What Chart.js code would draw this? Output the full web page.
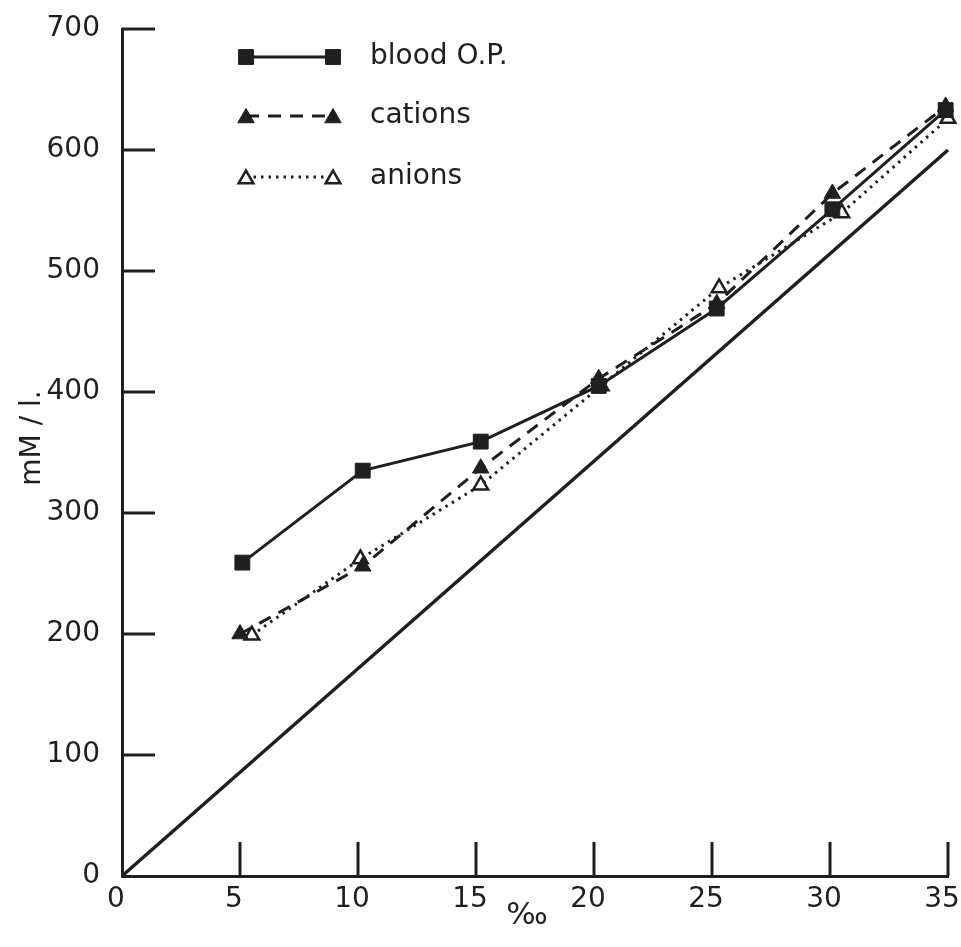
<!DOCTYPE html>
<html>
<head>
<meta charset="utf-8">
<script src="https://cdn.jsdelivr.net/npm/chart.js@4.4.1/dist/chart.umd.min.js"></script>
<style>
  html, body { margin: 0; padding: 0; background: #fff; }
  #wrap { width: 961px; height: 947px; position: relative; }
</style>
</head>
<body>
<div id="wrap"><canvas id="chart" width="961" height="947"></canvas></div>
<script>
// Salinity (‰) at which each series was measured
const bloodSalinity  = [5.1, 10.2, 15.2, 20.2, 25.2, 30.1, 34.9];
const cationSalinity = [5.0, 10.2, 15.2, 20.2, 25.2, 30.1, 34.9];
const anionSalinity  = [5.5, 10.1, 15.2, 20.3, 25.3, 30.5, 35.0];

// Concentrations, mM / l.
const bloodOP = [259, 335, 359, 405, 469, 551, 633];
const cations = [200, 256, 337, 411, 473, 564, 636];
const anions  = [199, 262, 323, 405, 486, 548, 626];

// Iso-osmotic reference line (medium = blood)
const isoSalinity = [0, 35];
const isoValue    = [0, 600];

// Axis ticks
const xTicks = [0, 5, 10, 15, 20, 25, 30, 35];
const yTicks = [0, 100, 200, 300, 400, 500, 600, 700];

const seriesLabels = ['blood O.P.', 'cations', 'anions'];
const xTitle = '‰';
const yTitle = 'mM / l.';

const INK = '#1f1f1f';
const FONT = '"DejaVu Sans", sans-serif';

const pairs = (xs, ys) => xs.map((x, i) => ({ x: x, y: ys[i] }));

// Tick marks pointing into the plot area
const innerTicks = {
  id: 'innerTicks',
  afterDatasetsDraw(chart) {
    const { ctx, chartArea, scales } = chart;
    ctx.save();
    ctx.strokeStyle = INK;
    ctx.lineWidth = 3;
    ctx.lineCap = 'butt';
    scales.y.ticks.forEach(t => {
      if (t.value === 0) return;
      const py = scales.y.getPixelForValue(t.value);
      ctx.beginPath();
      ctx.moveTo(chartArea.left, py);
      ctx.lineTo(chartArea.left + 33, py);
      ctx.stroke();
    });
    scales.x.ticks.forEach(t => {
      if (t.value === 0) return;
      const px = scales.x.getPixelForValue(t.value);
      ctx.beginPath();
      ctx.moveTo(px, chartArea.bottom);
      ctx.lineTo(px, chartArea.bottom - 34);
      ctx.stroke();
    });
    ctx.restore();
  }
};

// Axis titles
const axisTitles = {
  id: 'axisTitles',
  afterDraw(chart) {
    const { ctx, chartArea } = chart;
    ctx.save();
    ctx.fillStyle = INK;
    ctx.font = '28px ' + FONT;
    ctx.textAlign = 'center';
    ctx.textBaseline = 'alphabetic';
    ctx.translate(40, 438);
    ctx.rotate(-Math.PI / 2);
    ctx.fillText(yTitle, 0, 0);
    ctx.restore();

    ctx.save();
    ctx.fillStyle = INK;
    ctx.font = '31px ' + FONT;
    ctx.textAlign = 'center';
    ctx.textBaseline = 'middle';
    ctx.fillText(xTitle, (chartArea.left + chartArea.right) / 2 - 8, 916);
    ctx.restore();
  }
};

// Legend: sample line between two markers, label to the right
const sampleLegend = {
  id: 'sampleLegend',
  afterDraw(chart) {
    const { ctx } = chart;
    const rows = [57, 116, 177];
    const x0 = 246, x1 = 333, tx = 370;
    for (let i = 0; i < 3; i++) {
      const ds = chart.data.datasets[i];
      const y = rows[i];
      ctx.save();
      ctx.strokeStyle = ds.borderColor;
      ctx.lineWidth = ds.borderWidth;
      ctx.lineCap = ds.borderCapStyle || 'butt';
      ctx.setLineDash(ds.borderDash || []);
      ctx.beginPath();
      ctx.moveTo(x0, y);
      ctx.lineTo(x1, y);
      ctx.stroke();
      ctx.setLineDash([]);
      const style = {
        pointStyle: ds.pointStyle,
        radius: ds.pointRadius,
        rotation: 0,
        borderWidth: ds.pointBorderWidth
      };
      ctx.fillStyle = ds.pointBackgroundColor;
      ctx.strokeStyle = ds.pointBorderColor;
      ctx.lineWidth = ds.pointBorderWidth;
      Chart.helpers.drawPoint(ctx, style, x0, y + (ds.pointStyle === 'triangle' ? 2 : 0));
      Chart.helpers.drawPoint(ctx, style, x1, y + (ds.pointStyle === 'triangle' ? 2 : 0));
      ctx.fillStyle = INK;
      ctx.font = '28px ' + FONT;
      ctx.textAlign = 'left';
      ctx.textBaseline = 'middle';
      ctx.fillText(ds.label, tx, y);
      ctx.restore();
    }
  }
};

new Chart(document.getElementById('chart'), {
  type: 'line',
  data: {
    datasets: [
      {
        label: seriesLabels[0],
        data: pairs(bloodSalinity, bloodOP),
        borderColor: INK,
        borderWidth: 3,
        pointStyle: 'rect',
        pointRadius: 10.5,
        pointBorderWidth: 1,
        pointBackgroundColor: INK,
        pointBorderColor: INK,
        clip: false
      },
      {
        label: seriesLabels[1],
        data: pairs(cationSalinity, cations),
        borderColor: INK,
        borderWidth: 3,
        borderDash: [13, 9],
        pointStyle: 'triangle',
        pointRadius: 9.5,
        pointBorderWidth: 1,
        pointBackgroundColor: INK,
        pointBorderColor: INK,
        clip: false
      },
      {
        label: seriesLabels[2],
        data: pairs(anionSalinity, anions),
        borderColor: INK,
        borderWidth: 3,
        borderDash: [2.5, 5],
        pointStyle: 'triangle',
        pointRadius: 8.5,
        pointBorderWidth: 2.5,
        pointBackgroundColor: '#fff',
        pointBorderColor: INK,
        clip: false
      },
      {
        label: 'iso-osmotic',
        data: pairs(isoSalinity, isoValue),
        borderColor: INK,
        borderWidth: 3.5,
        pointRadius: 0,
        clip: false
      }
    ]
  },
  options: {
    responsive: false,
    animation: false,
    devicePixelRatio: 1,
    layout: { padding: { left: 0, right: 13, top: 29, bottom: 0 } },
    plugins: {
      legend: { display: false },
      tooltip: { enabled: false }
    },
    elements: { line: { tension: 0 } },
    scales: {
      x: {
        type: 'linear',
        min: 0,
        max: 35,
        afterBuildTicks: s => { s.ticks = xTicks.map(v => ({ value: v })); },
        afterFit: s => { s.height = 71; s.paddingLeft = 0; s.paddingRight = 0; },
        grid: { display: false, drawTicks: false },
        border: { display: true, color: INK, width: 3 },
        ticks: {
          color: INK,
          font: { family: FONT, size: 28 },
          padding: 7,
          labelOffset: -6,
          maxRotation: 0
        }
      },
      y: {
        type: 'linear',
        min: 0,
        max: 700,
        afterBuildTicks: s => { s.ticks = yTicks.map(v => ({ value: v })); },
        afterFit: s => { s.width = 122; s.paddingTop = 0; s.paddingBottom = 0; },
        grid: { display: false, drawTicks: false },
        border: { display: true, color: INK, width: 3 },
        ticks: {
          color: INK,
          font: { family: FONT, size: 28 },
          padding: 22
        }
      }
    }
  },
  plugins: [innerTicks, axisTitles, sampleLegend]
});
</script>
</body>
</html>
